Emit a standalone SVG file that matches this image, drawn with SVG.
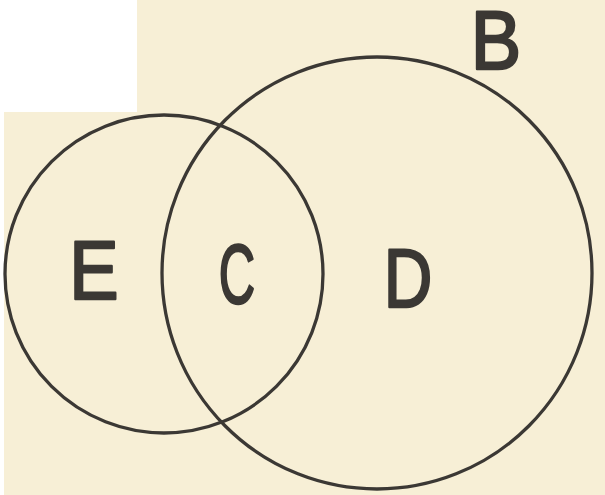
<svg xmlns="http://www.w3.org/2000/svg" width="605" height="495" viewBox="0 0 605 495">
  <style>
    .ring { fill: none; stroke: #3b3834; stroke-width: 3.3; }
    .lbl { font-family: "Liberation Sans", "DejaVu Sans", sans-serif; font-size: 84px; fill: #3b3834; stroke: #3b3834; stroke-width: 2.5; stroke-linejoin: round; text-anchor: middle; }
  </style>
  <rect x="0" y="0" width="605" height="495" fill="#ffffff"/>
  <path d="M137 0 H605 V495 H4 V112 H137 Z" fill="#f7efd6"/>
  <g id="connectors"></g>
  <g id="B">
    <ellipse class="ring" cx="377" cy="273" rx="215" ry="216"/>
    <text class="lbl" x="496" y="69" transform="translate(496 0) scale(0.9 1) translate(-496 0)">B</text>
  </g>
  <g id="E">
    <circle class="ring" cx="164" cy="274" r="159"/>
    <text class="lbl" x="94" y="299" transform="translate(94 0) scale(0.88 1) translate(-94 0)">E</text>
  </g>
  <g id="C">
    <text class="lbl" x="237" y="303" transform="translate(237 0) scale(0.6 1) translate(-237 0)">C</text>
  </g>
  <g id="D">
    <text class="lbl" x="408" y="307" transform="translate(408 0) scale(0.8 1) translate(-408 0)">D</text>
  </g>
</svg>
